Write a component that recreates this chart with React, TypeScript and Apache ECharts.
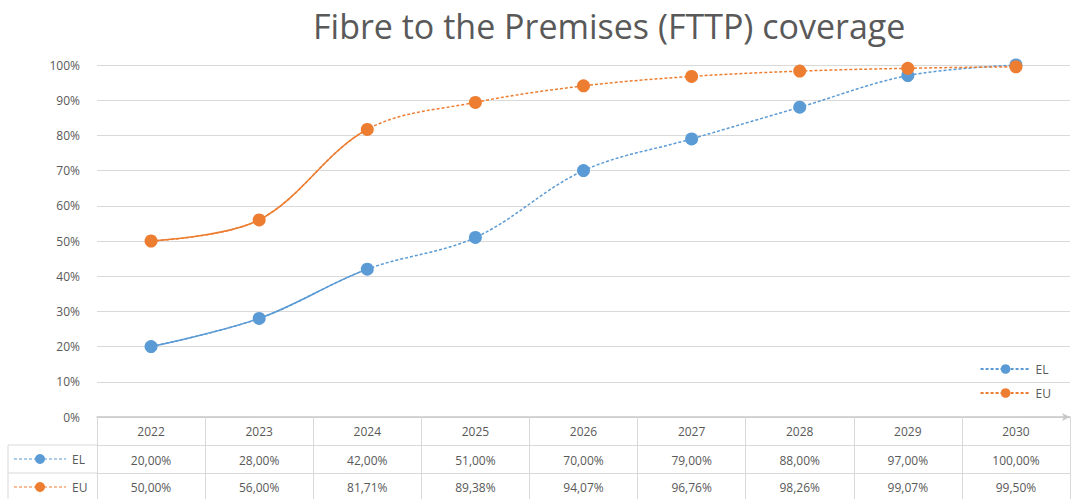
import React, { useEffect, useRef } from "react";
import * as echarts from "echarts";

const years = ["2022", "2023", "2024", "2025", "2026", "2027", "2028", "2029", "2030"];
const elValues = [20.0, 28.0, 42.0, 51.0, 70.0, 79.0, 88.0, 97.0, 100.0];
const euValues = [50.0, 56.0, 81.71, 89.38, 94.07, 96.76, 98.26, 99.07, 99.5];
const seriesNames = ["EL", "EU"];
const colors = ["#5B9BD5", "#ED7D31"];
const yTicks = { min: 0, max: 100, interval: 10 };
const solidUntil = 2; // index of last year drawn with a solid line

const FONT = "'Open Sans', sans-serif";
const GRAY = "#595959";
const W = 1072;

const fmt = (v: number) => v.toFixed(2).replace(".", ",") + "%";

export default function App() {
  const ref = useRef<HTMLDivElement>(null);
  useEffect(() => {
    document.body.style.margin = "0";
    if (!ref.current) return;
    const chart = echarts.init(ref.current, undefined, { renderer: "svg" });
    const allValues = [elValues, euValues];

    const series: any[] = [];
    // solid overlays (same full data so the smoothing matches; faded out after solidUntil)
    allValues.forEach((vals, i) => {
      series.push({
        id: "solid" + i,
        name: seriesNames[i] + "_solid",
        type: "line",
        data: vals,
        smooth: 0.35,
        symbol: "none",
        z: 1,
        lineStyle: { width: 1.5, type: "solid", color: "rgba(0,0,0,0)" },
        silent: true,
      });
    });
    allValues.forEach((vals, i) => {
      series.push({
        name: seriesNames[i],
        type: "line",
        data: vals,
        smooth: 0.35,
        symbol: "circle",
        symbolSize: 13,
        z: 3 + i,
        lineStyle: { color: colors[i], width: 1.5, type: [3, 2] },
        itemStyle: { color: colors[i] },
      });
    });

    const labelStyle = { color: GRAY, fontFamily: FONT, fontSize: 12 };
    const tableAxis = (data: string[], offset: number, margin: number, extra: any = {}) => ({
      type: "category",
      data,
      position: "bottom",
      offset,
      boundaryGap: true,
      axisLine: { show: true, lineStyle: { color: "#d9d9d9", width: 1 } },
      axisTick: { show: true, interval: 0, length: 28, lineStyle: { color: "#d9d9d9" } },
      axisLabel: { ...labelStyle, interval: 0, margin },
      splitLine: { show: false },
      ...extra,
    });

    const legendKey = (y: number, i: number) => [
      {
        type: "line",
        shape: { x1: 14, y1: y, x2: 66, y2: y },
        style: { stroke: colors[i], lineWidth: 1.2, lineDash: [3, 2] },
      },
      {
        type: "circle",
        shape: { cx: 40, cy: y, r: 5 },
        style: { fill: colors[i] },
      },
      {
        type: "text",
        x: 72,
        y: y,
        style: { text: seriesNames[i], fill: GRAY, font: `12px ${FONT}`, verticalAlign: "middle" },
      },
    ];

    chart.setOption({
      animation: false,
      backgroundColor: "#ffffff",
      title: {
        text: "Fibre to the Premises (FTTP) coverage",
        left: 308,
        top: 4,
        textStyle: { color: GRAY, fontFamily: FONT, fontSize: 34, fontWeight: "normal" },
      },
      grid: { left: 97, right: 2, top: 65, bottom: 82 },
      legend: {
        data: seriesNames,
        orient: "vertical",
        right: 16,
        top: 358,
        itemWidth: 50,
        itemHeight: 12,
        itemGap: 12,
        textStyle: { color: GRAY, fontFamily: FONT, fontSize: 12 },
      },
      xAxis: [
        tableAxis(years, 0, 8, {
          axisLine: {
            show: true,
            symbol: ["none", "arrow"],
            symbolSize: [6, 8],
            lineStyle: { color: "#c8c8c8", width: 1.5 },
          },
        }),
        tableAxis(elValues.map(fmt), 28, 9),
        tableAxis(euValues.map(fmt), 56, 8),
      ],
      yAxis: {
        type: "value",
        min: yTicks.min,
        max: yTicks.max,
        interval: yTicks.interval,
        axisLine: { show: false },
        axisTick: { show: false },
        axisLabel: { ...labelStyle, margin: 17, formatter: (v: number) => v + "%" },
        splitLine: { lineStyle: { color: "#d9d9d9", width: 1 } },
      },
      graphic: [
        { type: "line", shape: { x1: 8, y1: 445, x2: 97, y2: 445 }, style: { stroke: "#d9d9d9" } },
        { type: "line", shape: { x1: 8, y1: 473, x2: 97, y2: 473 }, style: { stroke: "#d9d9d9" } },
        { type: "line", shape: { x1: 8, y1: 445, x2: 8, y2: 499 }, style: { stroke: "#d9d9d9" } },
        ...legendKey(459, 0),
        ...legendKey(487, 1),
      ],
      series,
    });

    // Fade the solid overlay out beyond the last solid year, using the axis' own scale.
    const px = chart.convertToPixel({ xAxisIndex: 0 }, years[solidUntil]) as number;
    const cut = Math.min(Math.max(px / W, 0), 1);
    chart.setOption({
      series: colors.map((c, i) => ({
        id: "solid" + i,
        lineStyle: {
          color: {
            type: "linear",
            x: 0,
            y: 0,
            x2: W,
            y2: 0,
            global: true,
            colorStops: [
              { offset: 0, color: c },
              { offset: cut, color: c },
              { offset: Math.min(cut + 0.0005, 1), color: "rgba(255,255,255,0)" },
              { offset: 1, color: "rgba(255,255,255,0)" },
            ],
          },
        },
      })),
    });
    return () => chart.dispose();
  }, []);
  return <div ref={ref} style={{ width: 1072, height: 499 }} />;
}
